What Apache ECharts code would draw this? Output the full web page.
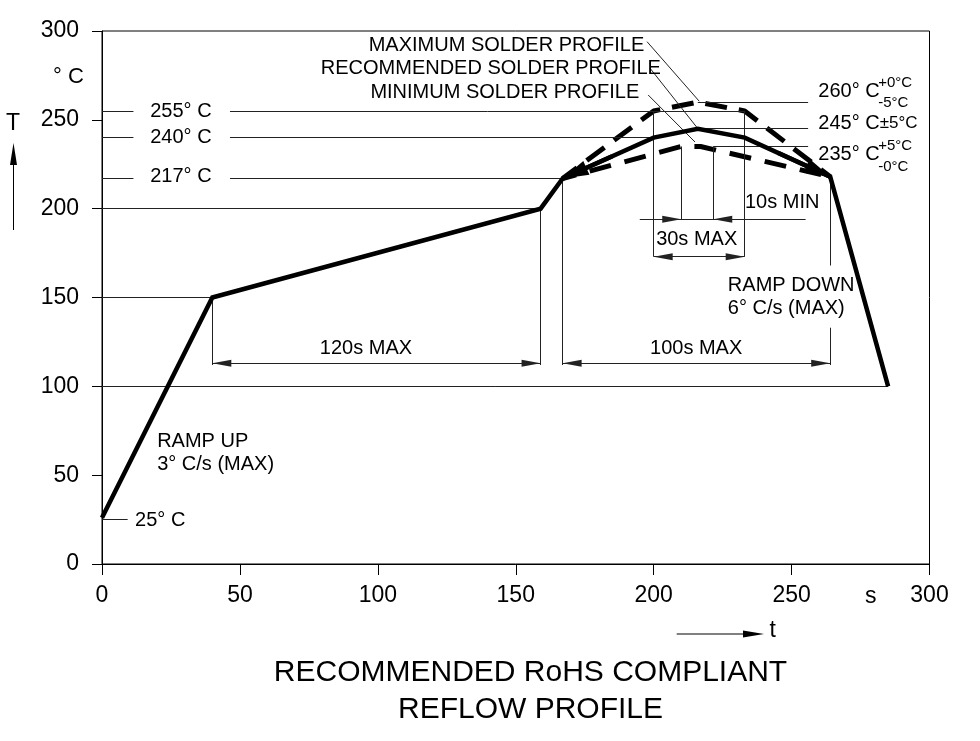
<!DOCTYPE html>
<html><head><meta charset="utf-8">
<script src="https://cdn.jsdelivr.net/npm/echarts@6/dist/echarts.min.js"></script>
<style>html,body{margin:0;padding:0;background:#fff}#c{width:980px;height:741px}</style>
</head><body><div id="c"></div>
<script>
const FONT = '"Liberation Sans", Arial, sans-serif';

// ---- data (time s, temperature °C) ----
const recT = [0, 40, 159, 167, 200, 216, 233, 264, 285];
const recV = [26, 150, 200, 217, 240, 245, 240, 218, 100];
const maxT = [167, 200, 216, 233, 264];
const maxV = [217, 255, 260, 255, 218];
const minT = [167, 210, 217, 264];
const minV = [217, 235, 235, 218];
const axisMin = 0, axisMax = 300, axisStep = 50;

// thin reference / extension / leader lines [t1, T1, t2, T2]
const refLines = [
  [0,255,11.4,255],[46.4,255,233,255],
  [0,240,11.4,240],[46.4,240,200,240],
  [0,217,11.4,217],[46.4,217,167,217],
  [0,200,159,200],[0,150,40,150],[0,100,285,100],[0,25,9.3,25],
  [216,260,256,260],[216,245,256,245],[221.6,235,256,235],
  [40,150,40,112],[159,200,159,112],[167,217,167,112],[264,218,264,168],[264,133,264,112],
  [200,255,200,173],[233,255,233,173],[210,235,210,194],[221.6,235,221.6,194],
  [195,194,255,194],
  [197.6,294,216.5,260.5],[198.7,279,215.8,245.5],[198,264,215,237.5]
];
// dimension lines with arrowheads at both ends
const dimLines = [[40,113,159,113],[167,113,264,113],[200,173,233,173]];
// dimension arrows pointing inward (arrow at end point)
const inArrows = [[195,194,210,194],[255,194,221.6,194]];
// arrowheads on the recommended profile
const bigArrows = [[185,229.5,167,217],[245,231.5,264,218]];

// text annotations in data space
const notes = [
  {t:'255° C', at:[28.6,254.8], a:'center'},
  {t:'240° C', at:[28.6,239.8], a:'center'},
  {t:'217° C', at:[28.6,218], a:'center'},
  {t:'25° C', at:[12,24.3], a:'left'},
  {t:'RAMP UP\n3° C/s (MAX)', at:[20,62.3], a:'left'},
  {t:'RAMP DOWN\n6° C/s (MAX)', at:[226.9,150.3], a:'left'},
  {t:'120s MAX', at:[95.7,121.5], a:'center'},
  {t:'100s MAX', at:[215.4,121.2], a:'center'},
  {t:'30s MAX', at:[215.6,182.9], a:'center'},
  {t:'10s MIN', at:[233.1,203.3], a:'left'},
  {t:'MAXIMUM SOLDER PROFILE', at:[196.6,291.6], a:'right'},
  {t:'RECOMMENDED SOLDER PROFILE', at:[202.6,278.9], a:'right'},
  {t:'MINIMUM SOLDER PROFILE', at:[194.8,265.2], a:'right'},
  {t:'260° C', at:[259.7,266], a:'left'},
  {t:'+0°C', at:[281.4,270.9], a:'left', s:15},
  {t:'-5°C', at:[281.4,259.4], a:'left', s:15},
  {t:'{a|245° C}{b|±5°C}', at:[259.7,248.2], a:'left', rich:true},
  {t:'235° C', at:[259.7,230.3], a:'left'},
  {t:'+5°C', at:[281.4,235.6], a:'left', s:15},
  {t:'-0°C', at:[281.4,223.7], a:'left', s:15}
];

const pairs = (xs, ys) => xs.map((x, i) => [x, ys[i]]);
const seg = l => [{coord:[l[0],l[1]]},{coord:[l[2],l[3]]}];

const chart = echarts.init(document.getElementById('c'), null, {renderer:'canvas'});
const txt = {color:'#000', fontFamily:FONT};

const option = {
  animation:false,
  backgroundColor:'#fff',
  textStyle:{fontFamily:FONT},
  grid:{left:102, right:50.5, top:31, bottom:177, show:true, borderColor:'#000', borderWidth:1, backgroundColor:'transparent'},
  xAxis:{type:'value', min:axisMin, max:axisMax, interval:axisStep,
    axisLine:{lineStyle:{color:'#000', width:1}},
    axisTick:{show:true, inside:false, length:11, lineStyle:{color:'#000'}},
    axisLabel:{...txt, fontSize:23, margin:20},
    splitLine:{show:false}},
  yAxis:{type:'value', min:axisMin, max:axisMax, interval:axisStep,
    axisLine:{show:true, lineStyle:{color:'#000', width:1}},
    axisTick:{show:true, inside:false, length:10, lineStyle:{color:'#000'}},
    axisLabel:{...txt, fontSize:23, margin:23},
    splitLine:{show:false}},
  series:[
    {type:'line', data:pairs(recT, recV), symbol:'none', silent:true, z:5,
      lineStyle:{color:'#000', width:4.5, join:'miter'}},
    {type:'line', data:pairs(maxT, maxV), symbol:'none', silent:true, z:4,
      lineStyle:{color:'#000', width:5, type:[22,12], dashOffset:4}},
    {type:'line', data:pairs(minT, minV), symbol:'none', silent:true, z:4,
      lineStyle:{color:'#000', width:5, type:[22,14], dashOffset:8}},
    {type:'line', data:[], silent:true, z:3,
      markLine:{silent:true, animation:false, symbol:'none', label:{show:false},
        emphasis:{disabled:true},
        lineStyle:{color:'#222', width:1, type:'solid'},
        data:[
          ...refLines.map(seg),
          ...dimLines.map(l=>[
            {coord:[l[0],l[1]], symbol:'triangle', symbolSize:[7,19], symbolOffset:[0,'50%']},
            {coord:[l[2],l[3]], symbol:'triangle', symbolSize:[7,19], symbolOffset:[0,'50%']}]),
          ...inArrows.map(l=>[
            {coord:[l[0],l[1]], symbol:'none'},
            {coord:[l[2],l[3]], symbol:'triangle', symbolSize:[7,19], symbolOffset:[0,'50%']}])
        ]},
      markPoint:{silent:true, animation:false, symbol:'circle', symbolSize:0,
        itemStyle:{color:'transparent'},
        data:notes.map(n=>({coord:n.at, value:0,
          label:{show:true, position:'inside', formatter:n.t, ...txt,
            fontSize:n.s||20, lineHeight:n.s?16:23, align:n.a, verticalAlign:'middle',
            rich:n.rich?{a:{...txt, fontSize:20}, b:{...txt, fontSize:17}}:undefined}}))}
    },
    {type:'line', data:[], silent:true, z:6,
      markLine:{silent:true, animation:false, symbol:'none', label:{show:false},
        emphasis:{disabled:true},
        lineStyle:{color:'#000', width:4.5, type:'solid'},
        data:bigArrows.map(l=>[
          {coord:[l[0],l[1]], symbol:'none'},
          {coord:[l[2],l[3]], symbol:'triangle', symbolSize:[15,26], symbolOffset:[0,'50%']}])}
    }
  ],
  graphic:[
    {type:'text', x:530.5, y:654, style:{text:'RECOMMENDED RoHS COMPLIANT\nREFLOW PROFILE', ...txt, fontSize:30, lineHeight:37, align:'center', verticalAlign:'top', fill:'#000'}},
    {type:'text', x:13, y:123.5, style:{text:'T', ...txt, fill:'#000', fontSize:23, align:'center', verticalAlign:'middle'}},
    {type:'line', shape:{x1:13.5, y1:230, x2:13.5, y2:160}, style:{stroke:'#000', lineWidth:1}},
    {type:'polygon', shape:{points:[[13.5,143],[10,165],[17,165]]}, style:{fill:'#000'}},
    {type:'text', x:53, y:77, style:{text:'° C', ...txt, fill:'#000', fontSize:22, align:'left', verticalAlign:'middle'}},
    {type:'text', x:870.7, y:597, style:{text:'s', ...txt, fill:'#000', fontSize:23, align:'center', verticalAlign:'middle'}},
    {type:'text', x:772.7, y:631, style:{text:'t', ...txt, fill:'#000', fontSize:23, align:'center', verticalAlign:'middle'}},
    {type:'line', shape:{x1:676.7, y1:634, x2:750, y2:634}, style:{stroke:'#000', lineWidth:1}},
    {type:'polygon', shape:{points:[[764,634],[743,630.5],[743,637.5]]}, style:{fill:'#000'}}
  ]
};
chart.setOption(option);
</script></body></html>
